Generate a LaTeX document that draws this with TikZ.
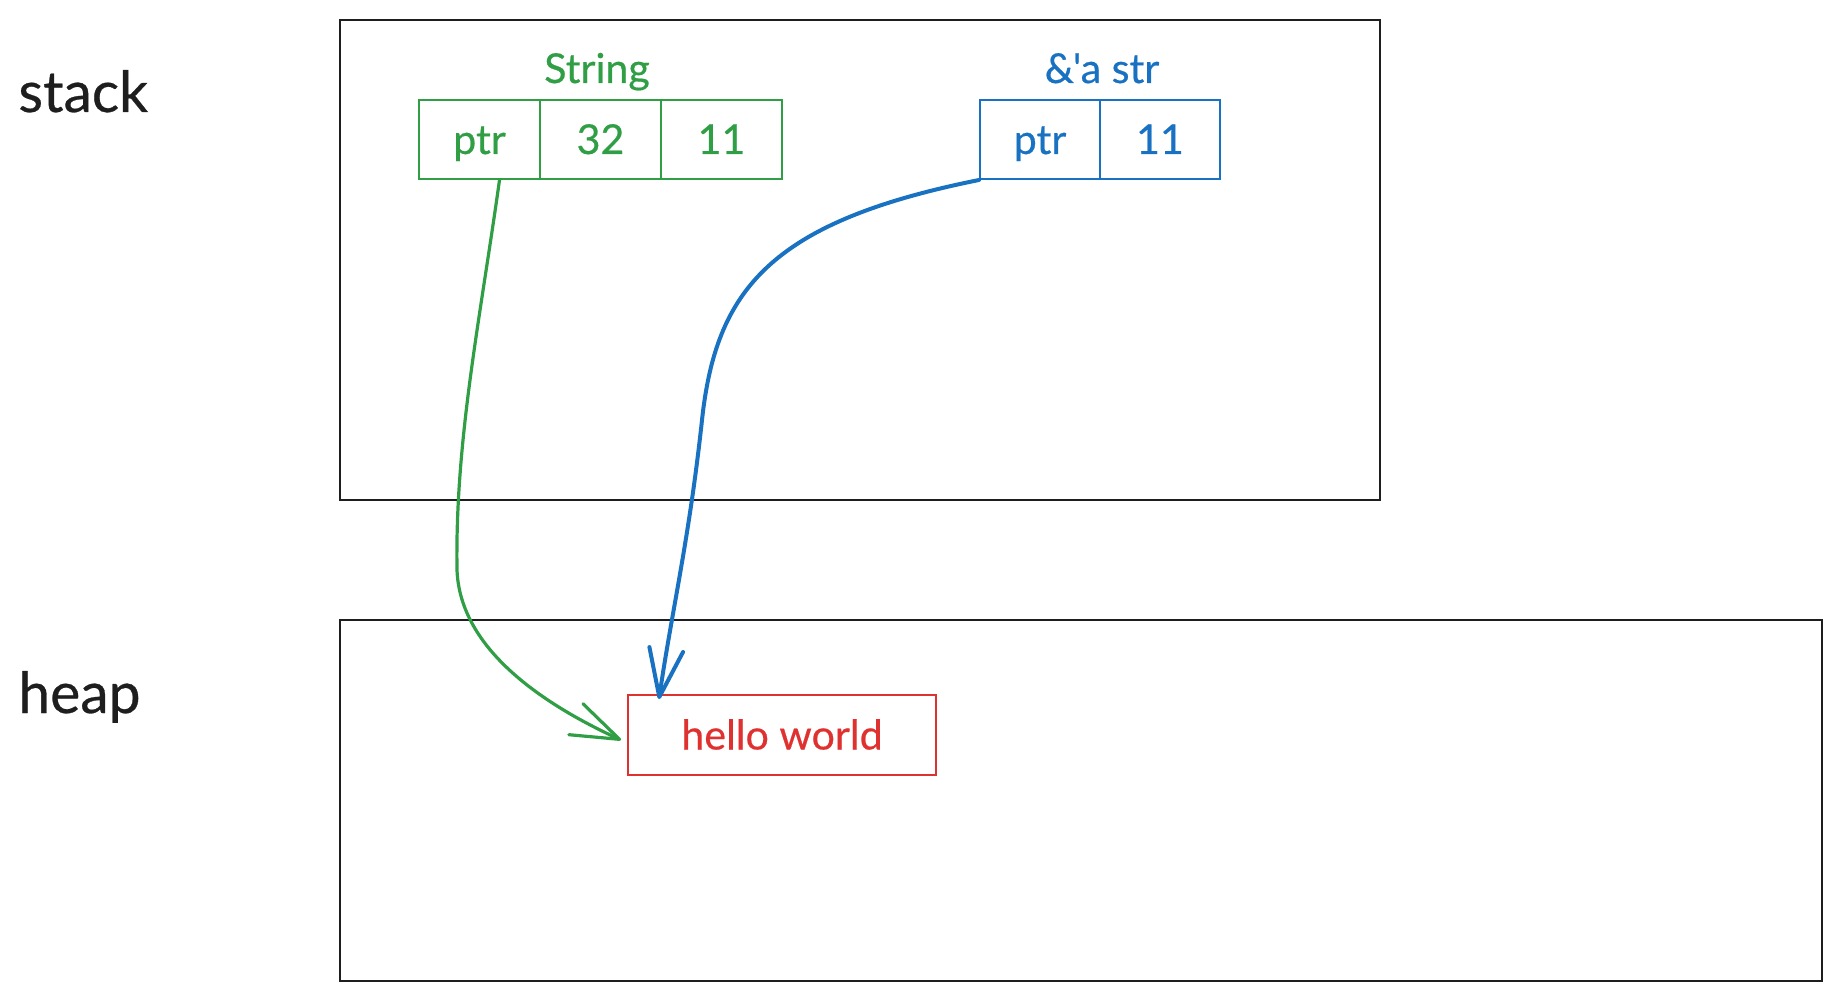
\documentclass[tikz,border=0pt]{standalone}
\usepackage{fontspec}
\setmainfont{Lato}[Ligatures=TeXOff, FakeBold=0.5]
\usetikzlibrary{arrows.meta}
\definecolor{exgreen}{HTML}{2F9E44}
\definecolor{exblue}{HTML}{1971C2}
\definecolor{exred}{HTML}{E03131}
\definecolor{exblack}{HTML}{1E1E1E}
\tikzset{
  region/.style={draw=exblack, line width=1.35pt, inner sep=0pt},
  biglabel/.style={text=exblack, font=\fontsize{28.5}{32}\selectfont, anchor=base west, inner sep=0pt},
  cell/.style={draw=#1, text=#1, line width=1pt, inner sep=0pt, minimum height=39.5pt,
    font=\fontsize{20.6}{24}\selectfont, text height=14.5pt, text depth=0pt},
  typelabel/.style={text=#1, font=\fontsize{20.6}{24}\selectfont, anchor=base, inner sep=0pt},
  pointer/.style={draw=#1, line width=1.6pt, line cap=round,
    -{Straight Barb[round, length=24pt, width=17pt]}},
}
\begin{document}
\begin{tikzpicture}[x=0.5pt, y=-0.5pt]
\useasboundingbox (0,0) rectangle (1840,1000);
% regions
\node[region, minimum width=520pt, minimum height=240pt] (stackbox) at (860,260) {};
\node[region, minimum width=741pt, minimum height=180.5pt] (heapbox) at (1081,800.5) {};
\node[biglabel] (stacklbl) at (18,112) {stack};
\node[biglabel] (heaplbl) at (18,713) {heap};
% String
\node[typelabel=exgreen] (strlbl) at (597,83) {String};
\node[cell=exgreen, minimum width=60.5pt] (gptr) at (479.5,139.5) {ptr};
\node[cell=exgreen, minimum width=60.5pt] (gcap) at (600.5,139.5) {32};
\node[cell=exgreen, minimum width=60.5pt] (glen) at (721.5,139.5) {11};
% &'a str
\node[typelabel=exblue] (slicelbl) at (1102,83) {\&'a str};
\node[cell=exblue, minimum width=60pt] (bptr) at (1040,139.5) {ptr};
\node[cell=exblue, minimum width=60pt] (blen) at (1160,139.5) {11};
% heap data
\node[cell=exred, minimum width=154pt, minimum height=40pt] (hello) at (782,735) {hello world};
% pointers
\coordinate (gbend) at (457,570);
\coordinate (bbend) at (702,420);
\draw[pointer=exgreen] ([xshift=10pt]gptr.south) .. controls (480,320) and (455,440) .. (gbend)
  .. controls (460,650) and (545,705) .. ([xshift=-3pt,yshift=-2.5pt]hello.west);
\draw[pointer=exblue, line width=2pt] (bptr.south west) .. controls (770,222) and (716,290) .. (bbend)
  .. controls (689,540) and (672,610) .. ([xshift=16pt,yshift=-2.5pt]hello.north west);
\end{tikzpicture}
\end{document}
